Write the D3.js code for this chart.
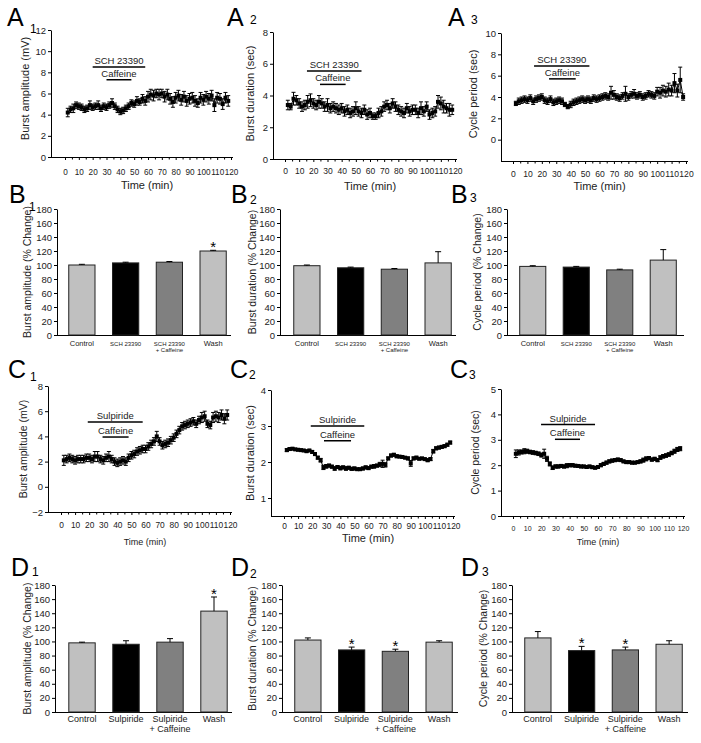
<!DOCTYPE html>
<html><head><meta charset="utf-8">
<script src="https://cdn.jsdelivr.net/npm/d3@7"></script>
<style>body{margin:0;background:#fff}svg{display:block}text{font-family:"Liberation Sans",Arial,sans-serif}</style>
</head><body><svg id="c" width="701" height="743"></svg>
<script>
// ---------- DATA ----------
const times = [2,4,6,8,10,12,14,16,18,20,22,24,26,28,30,32,34,36,38,40,42,44,46,48,50,52,54,56,58,60,
  62,64,66,68,70,72,74,76,78,80,82,84,86,88,90,92,94,96,98,100,102,104,106,108,110,112,114,116,118];
const timeTicks = [0,10,20,30,40,50,60,70,80,90,100,110,120];
const timeMinor = [5,15,25,35,45,55,65,75,85,95,105,115];

const a1Mean = [4.2,4.5,4.6,4.9,4.8,4.7,4.5,4.6,4.9,4.7, 4.8,4.9,4.6,4.8,4.7,4.9,5.1,4.8,4.5,4.3,
  4.4,4.6,4.8,5.1,5.0,5.3,5.2,5.5,5.3,5.7, 5.9,5.8,6.0,5.9,6.0,5.7,5.9,5.5,5.2,5.6,
  5.8,5.4,5.7,5.3,5.5,5.6,5.3,5.1,5.6,5.4, 5.7,5.5,5.8,4.9,5.6,5.5,5.0,5.6,5.3];
const a1Err = [0.4,0.3,0.4,0.3,0.3,0.3,0.3,0.3,0.4,0.3, 0.3,0.4,0.3,0.3,0.3,0.3,0.4,0.3,0.3,0.3,
  0.3,0.3,0.3,0.3,0.3,0.4,0.3,0.4,0.4,0.5, 0.5,0.5,0.4,0.5,0.4,0.5,0.5,0.5,0.5,0.5,
  0.5,0.5,0.5,0.5,0.5,0.5,0.5,0.4,0.5,0.5, 0.5,0.5,0.5,0.6,0.5,0.5,0.5,0.5,0.5];

const a2Mean = [3.4,3.3,3.8,3.7,3.5,3.3,3.4,3.6,3.7,3.5, 3.4,3.6,3.5,3.3,3.4,3.2,3.3,3.2,3.1,3.2,
  3.0,3.1,2.9,3.0,3.2,3.0,2.9,3.1,2.8,2.9, 2.7,2.7,2.9,3.0,3.3,3.4,3.2,3.5,3.3,3.1,
  3.0,2.9,3.2,3.0,3.1,3.1,2.9,3.2,3.0,3.3, 2.8,2.9,3.0,3.6,3.5,3.3,3.2,3.1,3.1];
const a2Err = [0.3,0.2,0.4,0.3,0.3,0.3,0.3,0.4,0.4,0.3, 0.3,0.4,0.3,0.3,0.4,0.3,0.3,0.3,0.3,0.3,
  0.3,0.3,0.3,0.3,0.4,0.3,0.3,0.3,0.3,0.3, 0.2,0.2,0.3,0.3,0.3,0.3,0.3,0.3,0.3,0.3,
  0.3,0.3,0.3,0.3,0.3,0.3,0.3,0.4,0.3,0.3, 0.3,0.3,0.3,0.4,0.4,0.4,0.3,0.4,0.3];

const a3Mean = [3.4,3.6,3.7,3.8,3.7,3.9,3.6,3.8,3.9,4.0, 3.7,3.6,3.8,3.5,3.6,3.7,3.6,3.3,3.1,3.3,
  3.5,3.6,3.7,3.8,3.7,3.8,3.7,3.9,3.8,3.9, 4.0,4.1,4.0,4.4,4.2,4.0,3.9,4.1,4.3,4.0,
  4.2,4.3,4.1,4.2,4.0,4.1,4.3,4.2,4.1,4.5, 4.4,4.6,4.5,4.7,4.6,5.3,4.6,5.6,4.0];
const a3Err = [0.2,0.3,0.3,0.3,0.3,0.3,0.3,0.3,0.3,0.3, 0.3,0.3,0.3,0.3,0.3,0.3,0.3,0.2,0.2,0.3,
  0.3,0.3,0.3,0.3,0.3,0.3,0.3,0.3,0.3,0.3, 0.3,0.3,0.3,0.6,0.4,0.3,0.3,0.3,0.7,0.3,
  0.3,0.4,0.3,0.3,0.3,0.3,0.3,0.3,0.3,0.4, 0.5,0.5,0.5,0.6,0.5,0.9,0.6,1.2,0.3];

const c1Mean = [2.1,2.2,2.3,2.2,2.1,2.2,2.2,2.2,2.3,2.3, 2.2,2.4,2.4,2.2,2.1,2.3,2.4,2.2,2.0,1.9,
  2.0,2.1,2.0,2.3,2.5,2.6,2.8,2.9,3.0,3.0, 3.2,3.4,3.6,4.0,3.6,3.3,3.4,3.5,3.7,3.9,
  4.2,4.5,4.8,4.9,5.0,5.1,5.2,5.0,5.3,5.5, 5.6,5.0,4.9,5.5,5.6,5.5,5.7,5.4,5.7];
const c1Err = [0.4,0.3,0.3,0.3,0.3,0.3,0.3,0.3,0.3,0.3, 0.3,0.4,0.4,0.3,0.3,0.3,0.4,0.3,0.3,0.3,
  0.3,0.3,0.3,0.3,0.3,0.3,0.3,0.3,0.3,0.3, 0.3,0.3,0.3,0.4,0.3,0.3,0.3,0.3,0.3,0.3,
  0.3,0.3,0.3,0.3,0.3,0.3,0.3,0.3,0.3,0.4, 0.4,0.3,0.3,0.4,0.4,0.4,0.4,0.4,0.4];

const c2Mean = [2.33,2.36,2.37,2.35,2.34,2.33,2.32,2.30,2.32,2.28, 2.22,2.12,2.05,1.85,1.88,1.90,1.87,1.82,1.86,1.83,
  1.85,1.82,1.84,1.81,1.82,1.80,1.80,1.82,1.85,1.83, 1.87,1.88,1.90,1.93,1.95,1.92,2.10,2.18,2.20,2.16,
  2.15,2.14,2.12,2.10,1.96,2.10,2.12,2.09,2.10,2.08, 2.05,2.08,2.30,2.38,2.40,2.42,2.44,2.48,2.54];
const c2Err = [0.04,0.04,0.03,0.03,0.03,0.03,0.03,0.03,0.03,0.04, 0.04,0.04,0.05,0.06,0.05,0.04,0.04,0.05,0.04,0.05,
  0.04,0.05,0.04,0.04,0.04,0.03,0.03,0.04,0.04,0.04, 0.04,0.05,0.04,0.06,0.10,0.06,0.04,0.04,0.04,0.04,
  0.03,0.03,0.03,0.04,0.08,0.04,0.04,0.03,0.03,0.03, 0.04,0.04,0.05,0.04,0.04,0.04,0.04,0.04,0.04];

const c3Mean = [2.45,2.50,2.52,2.55,2.55,2.52,2.50,2.48,2.45,2.40, 2.45,2.25,2.05,1.90,1.95,1.95,1.97,1.95,1.98,2.00,
  2.00,1.98,1.97,1.95,1.95,1.93,1.95,1.92,1.90,1.93, 2.00,2.05,2.10,2.15,2.18,2.20,2.22,2.20,2.15,2.12,
  2.12,2.10,2.10,2.12,2.15,2.20,2.25,2.28,2.22,2.25, 2.20,2.30,2.35,2.38,2.42,2.48,2.55,2.62,2.65];
const c3Err = [0.15,0.10,0.08,0.10,0.08,0.07,0.07,0.07,0.07,0.08, 0.18,0.10,0.08,0.07,0.06,0.06,0.06,0.06,0.08,0.06,
  0.06,0.05,0.05,0.05,0.05,0.05,0.05,0.05,0.05,0.05, 0.06,0.06,0.06,0.06,0.06,0.06,0.06,0.05,0.05,0.05,
  0.05,0.05,0.05,0.05,0.06,0.08,0.08,0.06,0.06,0.06, 0.06,0.07,0.07,0.07,0.07,0.07,0.08,0.08,0.08];

// drug application bars [start, end, level] in data units
const a1Drug = [20, 58, 8.5], a1Caf = [30, 48, 7.3];
const a2Drug = [15.5, 54, 5.55], a2Caf = [24.7, 42.8, 4.7];
const a3Drug = [14.6, 53, 6.9], a3Caf = [25, 43.5, 5.7];
const c1Drug = [19, 58, 5.14], c1Caf = [29.5, 48, 3.95];
const c2Drug = [19, 57, 3.0], c2Caf = [28.4, 47.6, 2.59];
const c3Drug = [19.8, 57.9, 3.6], c3Caf = [29.6, 47.3, 3.02];

const catsB = [["Control"],["SCH 23390"],["SCH 23390","+ Caffeine"],["Wash"]];
const catsD = [["Control"],["Sulpiride"],["Sulpiride","+ Caffeine"],["Wash"]];
const barColors = ["#c0c0c0","#000000","#808080","#c0c0c0"];
const pctTicks = [0,20,40,60,80,100,120,140,160,180];

const b1Mean = [100,103,104,120], b1Err = [1,1,1,1], b1Star = [0,0,0,1];
const b2Mean = [99,96,94,103],   b2Err = [1,1,1,16], b2Star = [0,0,0,0];
const b3Mean = [98,97,93,107],   b3Err = [1,1,1,15], b3Star = [0,0,0,0];
const d1Mean = [98,96,99,143],   d1Err = [1,5,5,20], d1Star = [0,0,0,1];
const d2Mean = [102,88,86,99],   d2Err = [3,4,3,2],  d2Star = [0,1,1,0];
const d3Mean = [105,87,88,96],   d3Err = [9,6,4,5],  d3Star = [0,1,1,0];

// ---------- DRAWING ----------
const svg = d3.select("#c");
const FONT = '"Liberation Sans",Arial,sans-serif';

function panelLabel(x, y, letter, sub, sdx, sdy){
  svg.append("text").attr("x", x).attr("y", y).attr("font-size", 25).attr("fill","#000").text(letter);
  svg.append("text").attr("x", x + sdx).attr("y", y + sdy).attr("font-size", 12).attr("fill","#000").text(sub);
}

function tsPanel(c){
  const g = svg.append("g");
  const x = d3.scaleLinear().domain([0,120]).range([c.xZero, c.x120]);
  const y = d3.scaleLinear().domain(c.yDom).range([c.yBot, c.yTop]);
  const ya = g.append("g").attr("transform",`translate(${c.x0},0)`)
    .call(d3.axisLeft(y).tickValues(c.yTicks).tickSize(3).tickSizeOuter(0).tickPadding(2).tickFormat(d3.format("d")));
  ya.attr("font-family", FONT).attr("font-size", c.yFont || 9.5);
  ya.selectAll("text").attr("fill","#222");
  const xa = g.append("g").attr("transform",`translate(0,${c.yBot})`)
    .call(d3.axisBottom(x).tickValues(timeTicks).tickSize(3).tickPadding(c.xPad));
  xa.attr("font-family", FONT).attr("font-size", c.xFont || 9.5);
  xa.selectAll("text").attr("fill","#222");
  xa.select(".domain").remove();
  g.append("line").attr("x1", c.x0).attr("x2", c.x120 + 2).attr("y1", c.yBot + 0.5).attr("y2", c.yBot + 0.5).attr("stroke","#000");
  g.selectAll(".mn").data(timeMinor).join("line")
    .attr("x1", d => x(d) + 0.5).attr("x2", d => x(d) + 0.5).attr("y1", c.yBot).attr("y2", c.yBot + 2.5).attr("stroke","#000");
  // titles
  g.append("text").attr("transform",`translate(${c.titleX},${(c.yTop + c.yBot)/2 + (c.titleDy || 0)}) rotate(-90)`)
    .attr("text-anchor","middle").attr("dy","0.35em").attr("font-size", c.titleFont || 11).attr("fill","#222").text(c.ytitle);
  g.append("text").attr("x", (c.x0 + c.x120)/2 + 6).attr("y", c.xTitleY).attr("text-anchor","middle")
    .attr("font-size", c.xTitleFont || 11).attr("fill","#222").text("Time (min)");
  // drug bars
  [[c.drug, c.drugName],[c.caf, "Caffeine"]].forEach(([r, name]) => {
    const yy = y(r[2]);
    g.append("line").attr("x1", x(r[0])).attr("x2", x(r[1])).attr("y1", yy).attr("y2", yy).attr("stroke","#000").attr("stroke-width",1.5);
    g.append("text").attr("x", (x(r[0]) + x(r[1]))/2).attr("y", yy - 3).attr("text-anchor","middle")
      .attr("font-size", 9.5).attr("fill","#222").text(name);
  });
  const pts = times.map((t,i) => ({t, m: c.mean[i], e: c.err[i]}));
  // error bars
  const eb = g.append("g").attr("stroke","#000").attr("stroke-width",1);
  pts.forEach(p => {
    const xx = x(p.t), y1 = y(p.m - p.e), y2 = y(p.m + p.e);
    eb.append("line").attr("x1",xx).attr("x2",xx).attr("y1",y1).attr("y2",y2);
    eb.append("line").attr("x1",xx-2).attr("x2",xx+2).attr("y1",y1).attr("y2",y1);
    eb.append("line").attr("x1",xx-2).attr("x2",xx+2).attr("y1",y2).attr("y2",y2);
  });
  g.append("path").datum(pts).attr("fill","none").attr("stroke","#000").attr("stroke-width",1)
    .attr("d", d3.line().x(d => x(d.t)).y(d => y(d.m)));
  g.selectAll(".pt").data(pts).join("rect")
    .attr("x", d => x(d.t) - 2).attr("y", d => y(d.m) - 2).attr("width", 4).attr("height", 4).attr("fill","#000");
}

function barPanel(c){
  const g = svg.append("g");
  const idx = c.cats.map((d,i) => i);
  const x = d3.scaleBand().domain(idx).range([c.bx0, c.bx1]).paddingInner(0.4).paddingOuter(0.2);
  const y = d3.scaleLinear().domain([0,180]).range([c.yBot, c.yTop]);
  const ya = g.append("g").attr("transform",`translate(${c.yAxisX},0)`)
    .call(d3.axisLeft(y).tickValues(pctTicks).tickSize(3).tickSizeOuter(0).tickPadding(2));
  ya.attr("font-family", FONT).attr("font-size", 9.5);
  ya.selectAll("text").attr("fill","#222");
  g.append("line").attr("x1", c.yAxisX).attr("x2", c.axisEnd).attr("y1", c.yBot + 0.5).attr("y2", c.yBot + 0.5).attr("stroke","#000");
  g.append("text").attr("transform",`translate(${c.titleX},${(c.yTop + c.yBot)/2}) rotate(-90)`)
    .attr("text-anchor","middle").attr("dy","0.35em").attr("font-size", 10.5).attr("fill","#222").text(c.ytitle);
  idx.forEach(i => {
    const bx = x(i), bw = x.bandwidth(), cx = bx + bw/2;
    g.append("rect").attr("x", bx).attr("y", y(c.mean[i])).attr("width", bw).attr("height", c.yBot - y(c.mean[i]))
      .attr("fill", barColors[i]).attr("stroke","#222").attr("stroke-width",1);
    const yt = y(c.mean[i] + c.err[i]);
    g.append("line").attr("x1",cx).attr("x2",cx).attr("y1",y(c.mean[i])).attr("y2",yt).attr("stroke","#000");
    g.append("line").attr("x1",cx-3).attr("x2",cx+3).attr("y1",yt).attr("y2",yt).attr("stroke","#000");
    if (c.star[i]) g.append("text").attr("x",cx).attr("y",yt + 2).attr("text-anchor","middle").attr("font-size",15).attr("fill","#000").text("*");
    c.cats[i].forEach((line, k) => {
      const small = c.catSmall && line !== "Control" && line !== "Wash";
      g.append("text").attr("x", cx).attr("y", c.catY + k * c.catDy).attr("text-anchor","middle")
        .attr("font-size", small ? c.catFont - 1.5 : c.catFont).attr("fill","#222").text(line);
    });
  });
}

// panel letters
panelLabel(7, 26, "A", "1", 23, 7);
panelLabel(227, 26, "A", "2", 23, -2);
panelLabel(448, 26, "A", "3", 23, -2);
panelLabel(9, 203, "B", "1", 20, 8);
panelLabel(231, 203, "B", "2", 19, 1);
panelLabel(451, 203, "B", "3", 19, -1);
panelLabel(8, 378, "C", "1", 22, 3);
panelLabel(230, 378, "C", "2", 19, 1);
panelLabel(450, 378, "C", "3", 19, 1);
panelLabel(11, 576, "D", "1", 21, 0);
panelLabel(231, 576, "D", "2", 19, 2);
panelLabel(461, 576, "D", "3", 21, 0);

// time-course panels
tsPanel({x0:51, xZero:65, x120:231, yTop:30, yBot:157, yDom:[0,12], yTicks:[0,2,4,6,8,10,12], xPad:9, xFont:8.2,
  titleX:25, titleDy:-5, xTitleY:189, ytitle:"Burst amplitude (mV)", mean:a1Mean, err:a1Err, drug:a1Drug, caf:a1Caf, drugName:"SCH 23390"});
tsPanel({x0:273, xZero:285, x120:455, yTop:32, yBot:159, yDom:[0,8], yTicks:[0,2,4,6,8], xPad:6, xFont:8.5,
  titleX:250, titleDy:-2, xTitleY:190, ytitle:"Burst duration (sec)", mean:a2Mean, err:a2Err, drug:a2Drug, caf:a2Caf, drugName:"SCH 23390"});
tsPanel({x0:501, xZero:513, x120:686, yTop:33, yBot:161, yDom:[-2,10], yTicks:[0,2,4,6,8,10], xPad:7, xFont:8.6,
  titleX:473, titleDy:-3, xTitleY:190, ytitle:"Cycle period (sec)", mean:a3Mean, err:a3Err, drug:a3Drug, caf:a3Caf, drugName:"SCH 23390"});
tsPanel({x0:48, xZero:61, x120:230, yTop:386, yBot:512, yDom:[-2,8], yTicks:[-2,0,2,4,6,8], xPad:7, xFont:8.4,
  titleX:23, xTitleY:545, xTitleFont:9, titleFont:10.5, ytitle:"Burst amplitude (mV)", mean:c1Mean, err:c1Err, drug:c1Drug, caf:c1Caf, drugName:"Sulpiride"});
tsPanel({x0:271, xZero:284, x120:453, yTop:390, yBot:516, yDom:[0.5,4], yTicks:[1,2,3,4], xPad:4, xFont:8.4,
  titleX:250, xTitleY:542, ytitle:"Burst duration (sec)", mean:c2Mean, err:c2Err, drug:c2Drug, caf:c2Caf, drugName:"Sulpiride"});
tsPanel({x0:501, xZero:513, x120:683, yTop:389, yBot:516, yDom:[0,5], yTicks:[0,1,2,3,4,5], xPad:7, xFont:7,
  titleX:475, xTitleY:545, xTitleFont:9, titleFont:10.5, ytitle:"Cycle period (sec)", mean:c3Mean, err:c3Err, drug:c3Drug, caf:c3Caf, drugName:"Sulpiride"});

// bar panels
barPanel({yAxisX:57, bx0:60, bx1:235, axisEnd:231, yTop:209, yBot:335, titleX:27, ytitle:"Burst amplitude (% Change)",
  cats:catsB, mean:b1Mean, err:b1Err, star:b1Star, catY:346, catDy:6, catFont:7.5, catSmall:true});
barPanel({yAxisX:280, bx0:285, bx1:460, axisEnd:456, yTop:209, yBot:335, titleX:252, ytitle:"Burst duration (% Change)",
  cats:catsB, mean:b2Mean, err:b2Err, star:b2Star, catY:346, catDy:6, catFont:7.5, catSmall:true});
barPanel({yAxisX:507, bx0:511, bx1:685, axisEnd:684, yTop:209, yBot:335, titleX:477, ytitle:"Cycle period (% Change)",
  cats:catsB, mean:b3Mean, err:b3Err, star:b3Star, catY:346, catDy:6, catFont:7.5, catSmall:true});
barPanel({yAxisX:55, bx0:60, bx1:236, axisEnd:232, yTop:585, yBot:712, titleX:27, ytitle:"Burst amplitude (% Change)",
  cats:catsD, mean:d1Mean, err:d1Err, star:d1Star, catY:722, catDy:10, catFont:9});
barPanel({yAxisX:282, bx0:286, bx1:461, axisEnd:458, yTop:585, yBot:712, titleX:252, ytitle:"Burst duration (% Change)",
  cats:catsD, mean:d2Mean, err:d2Err, star:d2Star, catY:722, catDy:10, catFont:9});
barPanel({yAxisX:512, bx0:516, bx1:691, axisEnd:688, yTop:585, yBot:712, titleX:483, ytitle:"Cycle period (% Change)",
  cats:catsD, mean:d3Mean, err:d3Err, star:d3Star, catY:722, catDy:10, catFont:9});
</script></body></html>
